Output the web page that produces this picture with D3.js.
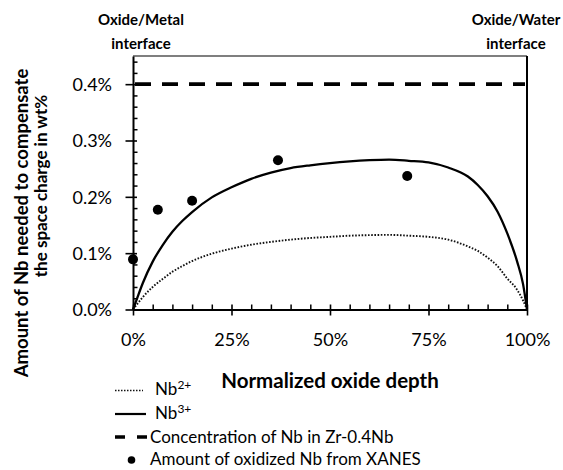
<!DOCTYPE html>
<html>
<head>
<meta charset="utf-8">
<script src="https://cdn.jsdelivr.net/npm/d3@7"></script>
<style>
  html, body { margin: 0; padding: 0; background: #fff; }
  svg { display: block; font-family: Lato, "Open Sans", sans-serif; }
</style>
</head>
<body>
<svg id="chart" width="563" height="470"></svg>
<script>
// Normalized oxide depth (%) at which the model curves are sampled
const depth = [0, 1, 2.5, 5, 7.5, 10, 12.5, 15, 20, 25, 30, 35, 40, 45, 50, 55, 60, 65, 70, 75, 80, 85, 87.5, 90, 92.5, 95, 97.5, 99, 100];
// Nb needed to compensate the space charge (wt%)
const nb2 = [0, 0.009, 0.022, 0.040, 0.054, 0.067, 0.077, 0.086, 0.099, 0.108, 0.115, 0.120, 0.124, 0.127, 0.129, 0.131, 0.132, 0.1325, 0.131, 0.129, 0.124, 0.112, 0.104, 0.092, 0.077, 0.055, 0.035, 0.016, 0];
const nb3 = [0, 0.019, 0.047, 0.085, 0.114, 0.138, 0.157, 0.173, 0.199, 0.217, 0.232, 0.243, 0.251, 0.256, 0.260, 0.263, 0.265, 0.266, 0.264, 0.261, 0.252, 0.236, 0.221, 0.201, 0.174, 0.135, 0.085, 0.045, 0];
// Nb content of the Zr-0.4Nb alloy (wt%)
const nbConcentration = 0.4;
// Oxidized Nb measured by XANES
const xanesDepth = [0, 6.3, 15, 36.8, 69.6];
const xanesNb = [0.089, 0.177, 0.193, 0.265, 0.237];
// Axis ticks
const xTicks = [0, 25, 50, 75, 100];
const yTicks = [0.0, 0.1, 0.2, 0.3, 0.4];

const svg = d3.select("#chart");
const W = 563, H = 470;
const plot = { left: 133, right: 527, top: 56, bottom: 309.5 };

const x = d3.scaleLinear().domain([0, 100]).range([plot.left, plot.right]);
const y = d3.scaleLinear().domain([0, 0.45]).range([plot.bottom, plot.top]);

svg.append("rect").attr("width", W).attr("height", H).attr("fill", "#fff");

// plot frame (top and right)
svg.append("line").attr("x1", x(0)).attr("x2", x(100)).attr("y1", y(0.45)).attr("y2", y(0.45))
  .attr("stroke", "#000").attr("stroke-width", 1.2);
svg.append("line").attr("x1", x(100)).attr("x2", x(100)).attr("y1", y(0.45)).attr("y2", y(0))
  .attr("stroke", "#000").attr("stroke-width", 2);

// minor ticks
const xMinor = d3.range(5, 100, 5).filter(v => v % 25 !== 0);
const yMinor = d3.range(1, 23).map(i => +(i * 0.02).toFixed(2)).filter(v => Math.abs(v * 10 - Math.round(v * 10)) > 1e-6);

svg.append("g").attr("transform", `translate(0,${plot.bottom})`)
  .call(d3.axisTop(x).tickValues(xMinor).tickSize(5).tickFormat(""))
  .call(g => g.select(".domain").remove())
  .selectAll("line").attr("stroke-width", 1.5);

svg.append("g").attr("transform", `translate(${plot.left},0)`)
  .call(d3.axisRight(y).tickValues(yMinor).tickSize(4.5).tickFormat(""))
  .call(g => g.select(".domain").remove())
  .selectAll("line").attr("stroke-width", 1.5);

// major axes
const xAxis = svg.append("g").attr("transform", `translate(0,${plot.bottom})`)
  .call(d3.axisBottom(x).tickValues(xTicks).tickSize(6).tickSizeOuter(0).tickFormat(d => d + "%"));
xAxis.select(".domain").attr("stroke-width", 2);
xAxis.selectAll(".tick line").attr("y1", -5).attr("stroke-width", 1.6);
xAxis.selectAll(".tick text").attr("y", 36.5).attr("dy", null)
  .attr("font-size", 18).attr("font-family", "Lato").attr("fill", "#000");

const yAxis = svg.append("g").attr("transform", `translate(${plot.left},0)`)
  .call(d3.axisLeft(y).tickValues(yTicks).tickSize(7.5).tickPadding(13.5).tickSizeOuter(0).tickFormat(d => d.toFixed(1) + "%"));
yAxis.select(".domain").attr("stroke-width", 2);
yAxis.selectAll(".tick line").attr("x1", 4).attr("stroke-width", 1.6);
yAxis.selectAll(".tick text").attr("dy", "0.36em")
  .attr("font-size", 18).attr("font-family", "Lato").attr("fill", "#000");

// Nb concentration in the alloy
svg.append("line")
  .attr("x1", x(0)).attr("x2", x(100) - 2)
  .attr("y1", y(nbConcentration)).attr("y2", y(nbConcentration))
  .attr("stroke", "#000").attr("stroke-width", 3.6)
  .attr("stroke-dasharray", "16,11").attr("stroke-dashoffset", -2);

// model curves
const line = d3.line().x((d, i) => x(depth[i])).y(d => y(d)).curve(d3.curveMonotoneX);

svg.append("path").datum(nb2).attr("d", line)
  .attr("fill", "none").attr("stroke", "#111").attr("stroke-width", 1.9)
  .attr("stroke-dasharray", "1.6,1.6");

svg.append("path").datum(nb3).attr("d", line)
  .attr("fill", "none").attr("stroke", "#000").attr("stroke-width", 2.3);

// XANES measurements
svg.append("g").selectAll("circle").data(xanesDepth).join("circle")
  .attr("cx", d => x(d)).attr("cy", (d, i) => y(xanesNb[i])).attr("r", 5).attr("fill", "#000");

// interface labels
const topLabels = [
  { pos: 0, lines: ["Oxide/Metal", "interface"] },
  { pos: 100, lines: ["Oxide/Water", "interface"] }
];
topLabels.forEach(t => {
  const cx = t.pos === 0 ? x(0) + 8 : x(100) - 11;
  t.lines.forEach((s, i) => {
    svg.append("text").attr("x", cx).attr("y", 25 + i * 24)
      .attr("text-anchor", "middle").attr("font-weight", "bold").attr("font-size", 15)
      .attr("fill", "#000").text(s);
  });
});

// axis titles
svg.append("text")
  .attr("transform", `translate(27.5,223) rotate(-90)`)
  .attr("text-anchor", "middle").attr("font-weight", "bold").attr("font-size", 18.5)
  .text("Amount of Nb needed to compensate");
svg.append("text")
  .attr("transform", `translate(46.5,186) rotate(-90)`)
  .attr("text-anchor", "middle").attr("font-weight", "bold").attr("font-size", 17)
  .text("the space charge in wt%");

svg.append("text")
  .attr("x", (plot.left + plot.right) / 2).attr("y", 388)
  .attr("text-anchor", "middle").attr("font-weight", "bold").attr("font-size", 20.5)
  .text("Normalized oxide depth");

// legend
const legend = svg.append("g").attr("font-size", 17).attr("fill", "#000");
function nbLabel(yb, charge) {
  const t = legend.append("text").attr("x", 155).attr("y", yb);
  t.append("tspan").text("Nb");
  t.append("tspan").attr("font-size", 12).attr("dy", -6.5).text(charge);
}
legend.append("line").attr("x1", 115).attr("x2", 143).attr("y1", 390.5).attr("y2", 390.5)
  .attr("stroke", "#111").attr("stroke-width", 1.6).attr("stroke-dasharray", "1.5,1.5");
nbLabel(395, "2+");
legend.append("line").attr("x1", 115).attr("x2", 146).attr("y1", 414).attr("y2", 414)
  .attr("stroke", "#000").attr("stroke-width", 2.2);
nbLabel(419, "3+");
legend.append("line").attr("x1", 115).attr("x2", 151).attr("y1", 437).attr("y2", 437)
  .attr("stroke", "#000").attr("stroke-width", 3.4).attr("stroke-dasharray", "10,12");
legend.append("text").attr("x", 150).attr("y", 443).text("Concentration of Nb in Zr-0.4Nb");
legend.append("circle").attr("cx", 131.5).attr("cy", 460).attr("r", 3.8).attr("fill", "#000");
legend.append("text").attr("x", 150).attr("y", 465).text("Amount of oxidized Nb from XANES");
</script>
</body>
</html>
